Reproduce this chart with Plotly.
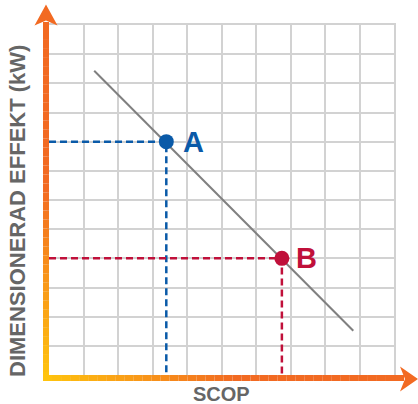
import plotly.graph_objects as go

# ---- data ----
trend_x = [1.31, 8.82]
trend_y = [10.43, 1.52]
point_names = ["A", "B"]
point_x = [3.4, 6.75]
point_y = [8.0, 4.0]
point_colors = ["#0a5aa8", "#c0103a"]
x_title = "SCOP"
y_title = "DIMENSIONERAD EFFEKT (kW)"
x_max = 10
y_max = 12

# ---- layout geometry (pixels) ----
W, H = 418, 404
L, R, T, B = 49, 24, 25, 29
PW, PH = W - L - R, H - T - B


def px2x(p):
    return (p - L) / PW


def py2y(p):
    return (H - B - p) / PH


YELLOW = (255, 196, 14)
ORANGE = (242, 106, 34)


def grad(d, D=190.0):
    t = max(0.0, min(1.0, d / D))
    c = [round(YELLOW[i] + (ORANGE[i] - YELLOW[i]) * t) for i in range(3)]
    return "rgb(%d,%d,%d)" % tuple(c)


fig = go.Figure()

# trend line
fig.add_trace(go.Scatter(x=trend_x, y=trend_y, mode="lines",
                         line=dict(color="#808080", width=2),
                         hoverinfo="skip", showlegend=False))

# dashed guides
for name, x, y, c in zip(point_names, point_x, point_y, point_colors):
    fig.add_trace(go.Scatter(x=[0, x, x], y=[y, y, 0], mode="lines",
                             line=dict(color=c, width=2.5, dash="7px,4px"),
                             hoverinfo="skip", showlegend=False))

# points
for name, x, y, c in zip(point_names, point_x, point_y, point_colors):
    fig.add_trace(go.Scatter(x=[x], y=[y], mode="markers",
                             marker=dict(color=c, size=15),
                             showlegend=False, name=name))
    fig.add_annotation(x=x, y=y, xref="x", yref="y", text="<b>%s</b>" % name,
                       showarrow=False, xanchor="left", yanchor="middle",
                       xshift=15 if name == "A" else 12, yshift=0,
                       font=dict(size=29, color=c,
                                 family="Liberation Sans, Arial, sans-serif"))

shapes = []
# gradient axes as segments
cx, cy = 46, 378
n = 40
y0, y1 = 381, 22
for i in range(n):
    a = y0 + (y1 - y0) * i / n
    b = y0 + (y1 - y0) * (i + 1) / n
    d = (cy - (a + b) / 2)
    shapes.append(dict(type="line", xref="paper", yref="paper",
                       x0=px2x(cx), x1=px2x(cx), y0=py2y(a), y1=py2y(b),
                       line=dict(color=grad(d), width=6)))
x0, x1 = 43, 404
for i in range(n):
    a = x0 + (x1 - x0) * i / n
    b = x0 + (x1 - x0) * (i + 1) / n
    d = ((a + b) / 2 - cx)
    shapes.append(dict(type="line", xref="paper", yref="paper",
                       x0=px2x(a), x1=px2x(b), y0=py2y(cy), y1=py2y(cy),
                       line=dict(color=grad(d), width=6)))


def path(pts):
    return "M " + " L ".join("%f,%f" % (px2x(px), py2y(py)) for px, py in pts) + " Z"


# arrowheads
shapes.append(dict(type="path", xref="paper", yref="paper",
                   path=path([(46, 4.5), (57.5, 25.5), (46, 20.5), (34.5, 25.5)]),
                   fillcolor="rgb(242,106,34)", line=dict(width=0)))
shapes.append(dict(type="path", xref="paper", yref="paper",
                   path=path([(418, 379), (400, 366.5), (405, 379), (400, 391.5)]),
                   fillcolor="rgb(242,106,34)", line=dict(width=0)))

fig.update_layout(shapes=shapes)

# axis titles
fig.add_annotation(x=px2x(221.5), y=py2y(394.5), xref="paper", yref="paper",
                   text="<b>%s</b>" % x_title, showarrow=False,
                   xanchor="center", yanchor="middle",
                   font=dict(size=20, color="#666666",
                             family="Liberation Sans, Arial, sans-serif"))
fig.add_annotation(x=px2x(17.5), y=py2y(211.5), xref="paper", yref="paper",
                   text="<b>%s</b>" % y_title, showarrow=False, textangle=-90,
                   xanchor="center", yanchor="middle",
                   font=dict(size=22, color="#666666",
                             family="Liberation Sans, Arial, sans-serif"))

fig.update_xaxes(range=[0, x_max], dtick=1, showgrid=True, gridcolor="#d2d2d2",
                 gridwidth=2, zeroline=False, showticklabels=False, ticks="",
                 showline=True, linecolor="#d2d2d2", linewidth=2, mirror=True,
                 fixedrange=True)
fig.update_yaxes(range=[0, y_max], dtick=1, showgrid=True, gridcolor="#d2d2d2",
                 gridwidth=2, zeroline=False, showticklabels=False, ticks="",
                 showline=True, linecolor="#d2d2d2", linewidth=2, mirror=True,
                 fixedrange=True)

fig.update_layout(width=W, height=H, margin=dict(l=L, r=R, t=T, b=B),
                  paper_bgcolor="white", plot_bgcolor="white",
                  showlegend=False)

fig.write_html("out.html", config={"displayModeBar": False},
               post_script="document.body.style.margin='0';"
                           "document.body.style.overflow='hidden';")
